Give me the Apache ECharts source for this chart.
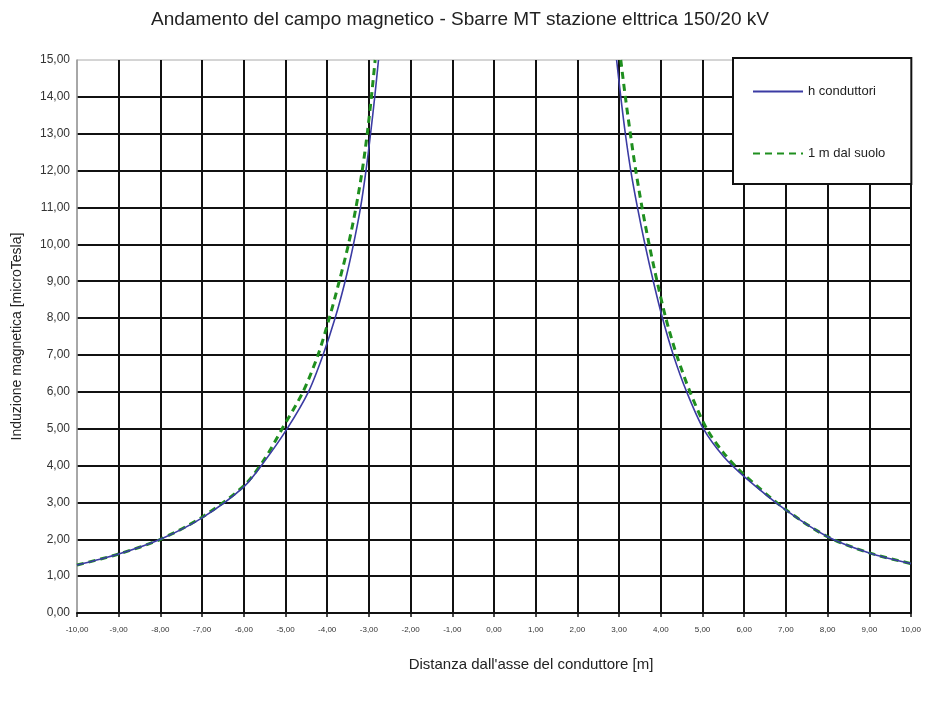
<!DOCTYPE html>
<html>
<head>
<meta charset="utf-8">
<script src="https://cdn.jsdelivr.net/npm/echarts@6/dist/echarts.min.js"></script>
<style>html,body{margin:0;padding:0;background:#fff}#c{width:930px;height:703px}</style>
</head>
<body>
<div id="c"></div>
<script>
var titleText = "Andamento del campo magnetico - Sbarre MT stazione elttrica 150/20 kV";
var xName = "Distanza dall'asse del conduttore [m]";
var yName = "Induzione magnetica [microTesla]";
var seriesNames = ["h conduttori", "1 m dal suolo"];

// h conduttori
var blueLeftX  = [-10, -9, -8, -7, -6, -5.5, -4.96, -4.45, -4.10, -3.81, -3.57, -3.37, -3.20, -3.07, -2.96, -2.86, -2.77];
var blueLeftY  = [1.30, 1.60, 2.00, 2.58, 3.42, 4.12, 5.0, 6.0, 7.0, 8.0, 9.0, 10.0, 11.0, 12.0, 13.0, 14.0, 15.0];
var blueRightX = [2.94, 3.04, 3.15, 3.28, 3.44, 3.62, 3.82, 4.04, 4.30, 4.62, 5.02, 5.5, 6, 7, 8, 9, 10];
var blueRightY = [15.0, 14.0, 13.0, 12.0, 11.0, 10.0, 9.0, 8.0, 7.0, 6.0, 5.0, 4.25, 3.70, 2.79, 2.07, 1.63, 1.34];

// 1 m dal suolo
var greenLeftX  = [-10, -9, -8, -7, -6, -5.5, -5.08, -4.58, -4.22, -3.95, -3.71, -3.49, -3.31, -3.16, -3.04, -2.94, -2.85];
var greenLeftY  = [1.30, 1.60, 2.00, 2.60, 3.45, 4.18, 5.0, 6.0, 7.0, 8.0, 9.0, 10.0, 11.0, 12.0, 13.0, 14.0, 15.0];
var greenRightX = [3.04, 3.15, 3.27, 3.40, 3.55, 3.72, 3.91, 4.12, 4.38, 4.70, 5.10, 5.5, 6, 7, 8, 9, 10];
var greenRightY = [15.0, 14.0, 13.0, 12.0, 11.0, 10.0, 9.0, 8.0, 7.0, 6.0, 5.0, 4.35, 3.75, 2.80, 2.07, 1.63, 1.34];

function pairs(xs, ys) { return xs.map(function (x, i) { return [x, ys[i]]; }); }
function fmt(v) { return v.toFixed(2).replace('.', ','); }

var blueStyle = { color: '#3b3ba3', width: 1.6, type: 'solid' };
var greenStyle = { color: '#1f8f1f', width: 3, type: [7, 5] };

function line(name, data, style, z) {
  return { name: name, type: 'line', data: data, symbol: 'none', smooth: 0.3,
           lineStyle: style, itemStyle: { color: style.color }, z: z };
}

var chart = echarts.init(document.getElementById('c'), null, { renderer: 'canvas' });
chart.setOption({
  animation: false,
  backgroundColor: '#fff',
  title: {
    text: titleText, left: 455, top: 5, textAlign: 'center',
    textStyle: { fontFamily: 'Liberation Sans', fontSize: 19, fontWeight: 'normal', color: '#222' }
  },
  legend: {
    data: seriesNames,
    orient: 'vertical', left: 733, top: 58,
    backgroundColor: '#fff', borderColor: '#111', borderWidth: 2,
    padding: [27, 26, 24, 19], itemGap: 49, itemWidth: 50, itemHeight: 14,
    itemStyle: { opacity: 0 },
    textStyle: { fontFamily: 'Liberation Sans', fontSize: 13, color: '#222' },
    z: 10
  },
  grid: { left: 77, right: 19, top: 60, bottom: 90, show: true, borderColor: '#aaa', borderWidth: 1,
          containLabel: false, outerBoundsMode: 'none' },
  xAxis: {
    type: 'value', min: -10, max: 10, interval: 1,
    name: xName, nameLocation: 'middle', nameGap: 44,
    nameTextStyle: { fontFamily: 'Liberation Sans', fontSize: 15, color: '#222', padding: [0, 0, 0, 74] },
    axisLine: { show: true, lineStyle: { color: '#111', width: 2 } },
    axisTick: { show: true, length: 4, lineStyle: { color: '#111', width: 1.5 } },
    axisLabel: { fontFamily: 'Liberation Sans', fontSize: 8, color: '#333', margin: 13, formatter: fmt },
    splitLine: { show: true, showMinLine: false, lineStyle: { color: '#111', width: 2 } }
  },
  yAxis: {
    type: 'value', min: 0, max: 15, interval: 1,
    name: yName, nameLocation: 'middle', nameGap: 53, nameRotate: 90,
    nameTextStyle: { fontFamily: 'Liberation Sans', fontSize: 14, color: '#222' },
    axisLine: { show: true, onZero: false, lineStyle: { color: '#999', width: 1.5 } },
    axisTick: { show: false },
    axisLabel: { fontFamily: 'Liberation Sans', fontSize: 12, color: '#333', margin: 7, formatter: fmt },
    splitLine: { show: true, showMaxLine: false, showMinLine: false, lineStyle: { color: '#111', width: 2 } }
  },
  series: [
    line(seriesNames[1], pairs(greenLeftX, greenLeftY), greenStyle, 3),
    line(seriesNames[1], pairs(greenRightX, greenRightY), greenStyle, 3),
    line(seriesNames[0], pairs(blueLeftX, blueLeftY), blueStyle, 4),
    line(seriesNames[0], pairs(blueRightX, blueRightY), blueStyle, 4)
  ]
});
</script>
</body>
</html>
